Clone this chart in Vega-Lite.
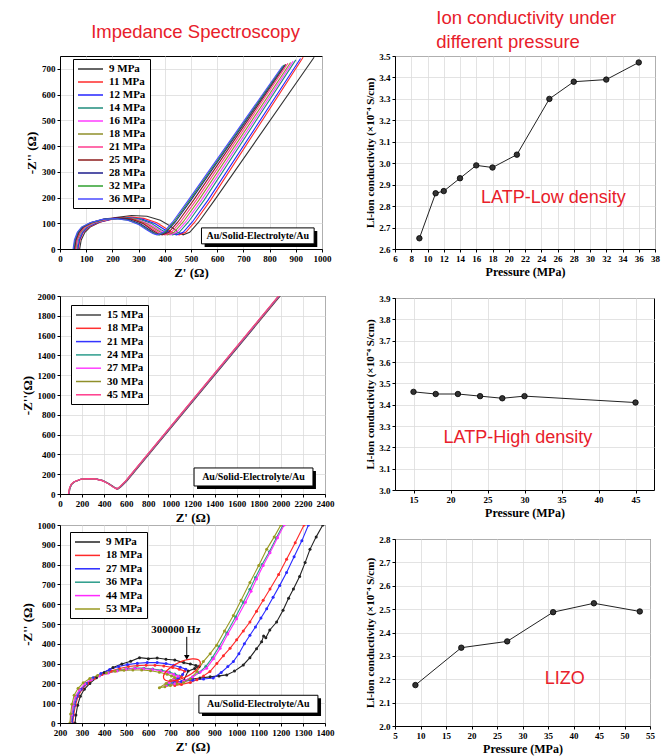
{
"$schema":"https://vega.github.io/schema/vega-lite/v6.json",
"background":"white",
"padding":{"left":20,"top":5,"right":5,"bottom":2},
"config":{
 "view":{"stroke":"black","strokeWidth":1},
 "axis":{"labelFont":"Liberation Serif","labelFontWeight":"bold","labelFontSize":9,"labelColor":"black","titleFont":"Liberation Serif","titleFontWeight":"bold","titleColor":"black","gridColor":"#dcdcdc","gridWidth":0.8,"domainColor":"black","tickColor":"black","tickSize":3,"labelPadding":2,"titlePadding":3,"labelOverlap":false,"labelFlush":false,"tickCount":60},
 "legend":{"labelFont":"Liberation Serif","labelFontWeight":"bold","labelFontSize":11,"labelColor":"black"},
 "title":{"font":"Liberation Sans","fontWeight":"normal","color":"#e8202a","fontSize":18.5}
},
"datasets":{
"p1":[
{"p":"9 MPa","x":75,"y":0},{"p":"9 MPa","x":81,"y":35},{"p":"9 MPa","x":95,"y":65},{"p":"9 MPa","x":115,"y":85},{"p":"9 MPa","x":154,"y":105},{"p":"9 MPa","x":213,"y":122},{"p":"9 MPa","x":273,"y":130},{"p":"9 MPa","x":332,"y":127},{"p":"9 MPa","x":383,"y":112},{"p":"9 MPa","x":423,"y":88},{"p":"9 MPa","x":450,"y":65},{"p":"9 MPa","x":470,"y":55},{"p":"9 MPa","x":495,"y":65},{"p":"9 MPa","x":530,"y":105},{"p":"9 MPa","x":590,"y":190},{"p":"9 MPa","x":970,"y":745},
{"p":"11 MPa","x":70,"y":0},{"p":"11 MPa","x":76,"y":35},{"p":"11 MPa","x":89,"y":65},{"p":"11 MPa","x":109,"y":85},{"p":"11 MPa","x":147,"y":103},{"p":"11 MPa","x":205,"y":117},{"p":"11 MPa","x":263,"y":125},{"p":"11 MPa","x":320,"y":119},{"p":"11 MPa","x":370,"y":102},{"p":"11 MPa","x":409,"y":77},{"p":"11 MPa","x":436,"y":60},{"p":"11 MPa","x":455,"y":55},{"p":"11 MPa","x":480,"y":65},{"p":"11 MPa","x":515,"y":105},{"p":"11 MPa","x":575,"y":190},{"p":"11 MPa","x":928,"y":745},
{"p":"12 MPa","x":68,"y":0},{"p":"12 MPa","x":74,"y":35},{"p":"12 MPa","x":87,"y":65},{"p":"12 MPa","x":106,"y":85},{"p":"12 MPa","x":143,"y":103},{"p":"12 MPa","x":200,"y":117},{"p":"12 MPa","x":257,"y":122},{"p":"12 MPa","x":313,"y":116},{"p":"12 MPa","x":362,"y":99},{"p":"12 MPa","x":400,"y":75},{"p":"12 MPa","x":426,"y":60},{"p":"12 MPa","x":445,"y":55},{"p":"12 MPa","x":470,"y":65},{"p":"12 MPa","x":505,"y":105},{"p":"12 MPa","x":565,"y":190},{"p":"12 MPa","x":918,"y":740},
{"p":"14 MPa","x":65,"y":0},{"p":"14 MPa","x":70,"y":35},{"p":"14 MPa","x":83,"y":65},{"p":"14 MPa","x":102,"y":85},{"p":"14 MPa","x":138,"y":103},{"p":"14 MPa","x":193,"y":117},{"p":"14 MPa","x":248,"y":122},{"p":"14 MPa","x":302,"y":116},{"p":"14 MPa","x":350,"y":99},{"p":"14 MPa","x":386,"y":75},{"p":"14 MPa","x":412,"y":60},{"p":"14 MPa","x":430,"y":55},{"p":"14 MPa","x":455,"y":65},{"p":"14 MPa","x":490,"y":105},{"p":"14 MPa","x":550,"y":190},{"p":"14 MPa","x":900,"y":735},
{"p":"16 MPa","x":62,"y":0},{"p":"16 MPa","x":67,"y":35},{"p":"16 MPa","x":80,"y":65},{"p":"16 MPa","x":98,"y":85},{"p":"16 MPa","x":134,"y":103},{"p":"16 MPa","x":187,"y":116},{"p":"16 MPa","x":241,"y":120},{"p":"16 MPa","x":295,"y":114},{"p":"16 MPa","x":341,"y":97},{"p":"16 MPa","x":377,"y":75},{"p":"16 MPa","x":402,"y":60},{"p":"16 MPa","x":420,"y":55},{"p":"16 MPa","x":445,"y":65},{"p":"16 MPa","x":480,"y":105},{"p":"16 MPa","x":540,"y":190},{"p":"16 MPa","x":890,"y":730},
{"p":"18 MPa","x":60,"y":0},{"p":"18 MPa","x":65,"y":35},{"p":"18 MPa","x":78,"y":65},{"p":"18 MPa","x":95,"y":85},{"p":"18 MPa","x":130,"y":103},{"p":"18 MPa","x":183,"y":116},{"p":"18 MPa","x":235,"y":120},{"p":"18 MPa","x":288,"y":114},{"p":"18 MPa","x":333,"y":97},{"p":"18 MPa","x":368,"y":75},{"p":"18 MPa","x":393,"y":60},{"p":"18 MPa","x":410,"y":55},{"p":"18 MPa","x":435,"y":65},{"p":"18 MPa","x":470,"y":105},{"p":"18 MPa","x":530,"y":190},{"p":"18 MPa","x":880,"y":725},
{"p":"21 MPa","x":58,"y":0},{"p":"21 MPa","x":63,"y":35},{"p":"21 MPa","x":75,"y":65},{"p":"21 MPa","x":92,"y":85},{"p":"21 MPa","x":126,"y":103},{"p":"21 MPa","x":178,"y":116},{"p":"21 MPa","x":229,"y":120},{"p":"21 MPa","x":280,"y":114},{"p":"21 MPa","x":325,"y":97},{"p":"21 MPa","x":359,"y":75},{"p":"21 MPa","x":383,"y":60},{"p":"21 MPa","x":400,"y":55},{"p":"21 MPa","x":425,"y":65},{"p":"21 MPa","x":460,"y":105},{"p":"21 MPa","x":520,"y":190},{"p":"21 MPa","x":870,"y":722},
{"p":"25 MPa","x":56,"y":0},{"p":"25 MPa","x":61,"y":35},{"p":"25 MPa","x":73,"y":65},{"p":"25 MPa","x":89,"y":85},{"p":"25 MPa","x":123,"y":103},{"p":"25 MPa","x":173,"y":117},{"p":"25 MPa","x":223,"y":122},{"p":"25 MPa","x":273,"y":116},{"p":"25 MPa","x":317,"y":99},{"p":"25 MPa","x":350,"y":75},{"p":"25 MPa","x":373,"y":60},{"p":"25 MPa","x":390,"y":55},{"p":"25 MPa","x":415,"y":65},{"p":"25 MPa","x":450,"y":105},{"p":"25 MPa","x":510,"y":190},{"p":"25 MPa","x":862,"y":718},
{"p":"28 MPa","x":54,"y":0},{"p":"28 MPa","x":59,"y":35},{"p":"28 MPa","x":70,"y":65},{"p":"28 MPa","x":87,"y":85},{"p":"28 MPa","x":119,"y":103},{"p":"28 MPa","x":168,"y":116},{"p":"28 MPa","x":217,"y":120},{"p":"28 MPa","x":266,"y":114},{"p":"28 MPa","x":308,"y":97},{"p":"28 MPa","x":341,"y":75},{"p":"28 MPa","x":364,"y":60},{"p":"28 MPa","x":380,"y":55},{"p":"28 MPa","x":405,"y":65},{"p":"28 MPa","x":440,"y":105},{"p":"28 MPa","x":500,"y":190},{"p":"28 MPa","x":858,"y":716},
{"p":"32 MPa","x":52,"y":0},{"p":"32 MPa","x":57,"y":35},{"p":"32 MPa","x":68,"y":65},{"p":"32 MPa","x":84,"y":85},{"p":"32 MPa","x":117,"y":102},{"p":"32 MPa","x":165,"y":115},{"p":"32 MPa","x":214,"y":118},{"p":"32 MPa","x":262,"y":112},{"p":"32 MPa","x":304,"y":95},{"p":"32 MPa","x":336,"y":74},{"p":"32 MPa","x":359,"y":60},{"p":"32 MPa","x":375,"y":55},{"p":"32 MPa","x":400,"y":65},{"p":"32 MPa","x":435,"y":105},{"p":"32 MPa","x":495,"y":190},{"p":"32 MPa","x":855,"y":715},
{"p":"36 MPa","x":50,"y":0},{"p":"36 MPa","x":55,"y":35},{"p":"36 MPa","x":66,"y":65},{"p":"36 MPa","x":82,"y":85},{"p":"36 MPa","x":114,"y":102},{"p":"36 MPa","x":162,"y":115},{"p":"36 MPa","x":210,"y":118},{"p":"36 MPa","x":258,"y":112},{"p":"36 MPa","x":300,"y":95},{"p":"36 MPa","x":332,"y":74},{"p":"36 MPa","x":354,"y":60},{"p":"36 MPa","x":370,"y":55},{"p":"36 MPa","x":395,"y":65},{"p":"36 MPa","x":430,"y":105},{"p":"36 MPa","x":490,"y":190},{"p":"36 MPa","x":850,"y":712}
],
"p3":[
{"p":"15 MPa","x":82,"y":0},{"p":"15 MPa","x":91,"y":60},{"p":"15 MPa","x":109,"y":100},{"p":"15 MPa","x":135,"y":125},{"p":"15 MPa","x":193,"y":148},{"p":"15 MPa","x":259,"y":155},{"p":"15 MPa","x":326,"y":153},{"p":"15 MPa","x":392,"y":135},{"p":"15 MPa","x":445,"y":105},{"p":"15 MPa","x":490,"y":72},{"p":"15 MPa","x":525,"y":50},{"p":"15 MPa","x":555,"y":75},{"p":"15 MPa","x":605,"y":130},{"p":"15 MPa","x":1995,"y":2000},
{"p":"18 MPa","x":80,"y":0},{"p":"18 MPa","x":89,"y":60},{"p":"18 MPa","x":106,"y":100},{"p":"18 MPa","x":133,"y":125},{"p":"18 MPa","x":190,"y":148},{"p":"18 MPa","x":256,"y":155},{"p":"18 MPa","x":322,"y":153},{"p":"18 MPa","x":388,"y":135},{"p":"18 MPa","x":441,"y":105},{"p":"18 MPa","x":485,"y":72},{"p":"18 MPa","x":520,"y":50},{"p":"18 MPa","x":550,"y":75},{"p":"18 MPa","x":600,"y":130},{"p":"18 MPa","x":1988,"y":2000},
{"p":"21 MPa","x":79,"y":0},{"p":"21 MPa","x":88,"y":60},{"p":"21 MPa","x":105,"y":100},{"p":"21 MPa","x":132,"y":125},{"p":"21 MPa","x":189,"y":148},{"p":"21 MPa","x":255,"y":155},{"p":"21 MPa","x":320,"y":153},{"p":"21 MPa","x":386,"y":135},{"p":"21 MPa","x":439,"y":105},{"p":"21 MPa","x":483,"y":72},{"p":"21 MPa","x":518,"y":50},{"p":"21 MPa","x":548,"y":75},{"p":"21 MPa","x":598,"y":130},{"p":"21 MPa","x":1985,"y":2000},
{"p":"24 MPa","x":78,"y":0},{"p":"24 MPa","x":87,"y":60},{"p":"24 MPa","x":104,"y":100},{"p":"24 MPa","x":131,"y":125},{"p":"24 MPa","x":188,"y":148},{"p":"24 MPa","x":253,"y":155},{"p":"24 MPa","x":319,"y":153},{"p":"24 MPa","x":385,"y":135},{"p":"24 MPa","x":437,"y":105},{"p":"24 MPa","x":481,"y":72},{"p":"24 MPa","x":516,"y":50},{"p":"24 MPa","x":546,"y":75},{"p":"24 MPa","x":596,"y":130},{"p":"24 MPa","x":1983,"y":2000},
{"p":"27 MPa","x":78,"y":0},{"p":"27 MPa","x":87,"y":60},{"p":"27 MPa","x":104,"y":100},{"p":"27 MPa","x":130,"y":125},{"p":"27 MPa","x":187,"y":148},{"p":"27 MPa","x":253,"y":155},{"p":"27 MPa","x":318,"y":153},{"p":"27 MPa","x":384,"y":135},{"p":"27 MPa","x":436,"y":105},{"p":"27 MPa","x":480,"y":72},{"p":"27 MPa","x":515,"y":50},{"p":"27 MPa","x":545,"y":75},{"p":"27 MPa","x":595,"y":130},{"p":"27 MPa","x":1982,"y":2000},
{"p":"30 MPa","x":77,"y":0},{"p":"30 MPa","x":86,"y":60},{"p":"30 MPa","x":103,"y":100},{"p":"30 MPa","x":129,"y":125},{"p":"30 MPa","x":186,"y":148},{"p":"30 MPa","x":252,"y":155},{"p":"30 MPa","x":317,"y":153},{"p":"30 MPa","x":383,"y":135},{"p":"30 MPa","x":435,"y":105},{"p":"30 MPa","x":479,"y":72},{"p":"30 MPa","x":514,"y":50},{"p":"30 MPa","x":544,"y":75},{"p":"30 MPa","x":594,"y":130},{"p":"30 MPa","x":1980,"y":2000},
{"p":"45 MPa","x":76,"y":0},{"p":"45 MPa","x":85,"y":60},{"p":"45 MPa","x":102,"y":100},{"p":"45 MPa","x":128,"y":125},{"p":"45 MPa","x":185,"y":148},{"p":"45 MPa","x":250,"y":155},{"p":"45 MPa","x":316,"y":153},{"p":"45 MPa","x":381,"y":135},{"p":"45 MPa","x":434,"y":105},{"p":"45 MPa","x":477,"y":72},{"p":"45 MPa","x":512,"y":50},{"p":"45 MPa","x":542,"y":75},{"p":"45 MPa","x":592,"y":130},{"p":"45 MPa","x":1978,"y":2000}
],
"p5":[
{"p":"9 MPa","x":268,"y":0},{"p":"9 MPa","x":272,"y":40},{"p":"9 MPa","x":280,"y":90},{"p":"9 MPa","x":292,"y":135},{"p":"9 MPa","x":310,"y":170},{"p":"9 MPa","x":335,"y":200},{"p":"9 MPa","x":365,"y":228},{"p":"9 MPa","x":400,"y":255},{"p":"9 MPa","x":440,"y":280},{"p":"9 MPa","x":480,"y":298},{"p":"9 MPa","x":520,"y":312},{"p":"9 MPa","x":560,"y":330},{"p":"9 MPa","x":600,"y":325},{"p":"9 MPa","x":640,"y":328},{"p":"9 MPa","x":680,"y":322},{"p":"9 MPa","x":720,"y":318},{"p":"9 MPa","x":760,"y":305},{"p":"9 MPa","x":790,"y":298},{"p":"9 MPa","x":815,"y":290},{"p":"9 MPa","x":830,"y":285},{"p":"9 MPa","x":810,"y":275},{"p":"9 MPa","x":780,"y":262},{"p":"9 MPa","x":760,"y":215},{"p":"9 MPa","x":800,"y":222},{"p":"9 MPa","x":834,"y":227},{"p":"9 MPa","x":880,"y":233},{"p":"9 MPa","x":920,"y":238},{"p":"9 MPa","x":955,"y":243},{"p":"9 MPa","x":990,"y":262},{"p":"9 MPa","x":1030,"y":293},{"p":"9 MPa","x":1060,"y":330},{"p":"9 MPa","x":1090,"y":375},{"p":"9 MPa","x":1113,"y":410},{"p":"9 MPa","x":1122,"y":440},{"p":"9 MPa","x":1132,"y":430},{"p":"9 MPa","x":1150,"y":470},{"p":"9 MPa","x":1181,"y":510},{"p":"9 MPa","x":1210,"y":570},{"p":"9 MPa","x":1235,"y":630},{"p":"9 MPa","x":1257,"y":677},{"p":"9 MPa","x":1285,"y":740},{"p":"9 MPa","x":1310,"y":810},{"p":"9 MPa","x":1332,"y":877},{"p":"9 MPa","x":1360,"y":940},{"p":"9 MPa","x":1390,"y":1000},
{"p":"18 MPa","x":258,"y":0},{"p":"18 MPa","x":262,"y":40},{"p":"18 MPa","x":270,"y":90},{"p":"18 MPa","x":282,"y":135},{"p":"18 MPa","x":300,"y":170},{"p":"18 MPa","x":325,"y":200},{"p":"18 MPa","x":355,"y":225},{"p":"18 MPa","x":390,"y":245},{"p":"18 MPa","x":430,"y":262},{"p":"18 MPa","x":470,"y":275},{"p":"18 MPa","x":510,"y":285},{"p":"18 MPa","x":550,"y":290},{"p":"18 MPa","x":590,"y":292},{"p":"18 MPa","x":630,"y":292},{"p":"18 MPa","x":670,"y":288},{"p":"18 MPa","x":710,"y":280},{"p":"18 MPa","x":740,"y":272},{"p":"18 MPa","x":765,"y":262},{"p":"18 MPa","x":750,"y":235},{"p":"18 MPa","x":730,"y":210},{"p":"18 MPa","x":720,"y":190},{"p":"18 MPa","x":750,"y":195},{"p":"18 MPa","x":790,"y":205},{"p":"18 MPa","x":820,"y":218},{"p":"18 MPa","x":850,"y":238},{"p":"18 MPa","x":879,"y":260},{"p":"18 MPa","x":910,"y":300},{"p":"18 MPa","x":940,"y":340},{"p":"18 MPa","x":970,"y":377},{"p":"18 MPa","x":1000,"y":420},{"p":"18 MPa","x":1030,"y":465},{"p":"18 MPa","x":1060,"y":510},{"p":"18 MPa","x":1090,"y":565},{"p":"18 MPa","x":1120,"y":620},{"p":"18 MPa","x":1151,"y":677},{"p":"18 MPa","x":1190,"y":750},{"p":"18 MPa","x":1226,"y":827},{"p":"18 MPa","x":1265,"y":910},{"p":"18 MPa","x":1305,"y":1000},
{"p":"27 MPa","x":255,"y":0},{"p":"27 MPa","x":259,"y":40},{"p":"27 MPa","x":266,"y":90},{"p":"27 MPa","x":278,"y":135},{"p":"27 MPa","x":296,"y":170},{"p":"27 MPa","x":320,"y":200},{"p":"27 MPa","x":350,"y":228},{"p":"27 MPa","x":385,"y":250},{"p":"27 MPa","x":425,"y":270},{"p":"27 MPa","x":465,"y":285},{"p":"27 MPa","x":505,"y":295},{"p":"27 MPa","x":550,"y":302},{"p":"27 MPa","x":595,"y":305},{"p":"27 MPa","x":640,"y":305},{"p":"27 MPa","x":680,"y":300},{"p":"27 MPa","x":715,"y":292},{"p":"27 MPa","x":745,"y":282},{"p":"27 MPa","x":770,"y":272},{"p":"27 MPa","x":755,"y":245},{"p":"27 MPa","x":735,"y":225},{"p":"27 MPa","x":715,"y":205},{"p":"27 MPa","x":750,"y":210},{"p":"27 MPa","x":800,"y":216},{"p":"27 MPa","x":850,"y":222},{"p":"27 MPa","x":894,"y":227},{"p":"27 MPa","x":930,"y":255},{"p":"27 MPa","x":960,"y":285},{"p":"27 MPa","x":985,"y":310},{"p":"27 MPa","x":1010,"y":350},{"p":"27 MPa","x":1035,"y":400},{"p":"27 MPa","x":1060,"y":443},{"p":"27 MPa","x":1085,"y":485},{"p":"27 MPa","x":1110,"y":530},{"p":"27 MPa","x":1136,"y":577},{"p":"27 MPa","x":1165,"y":635},{"p":"27 MPa","x":1195,"y":695},{"p":"27 MPa","x":1226,"y":760},{"p":"27 MPa","x":1260,"y":840},{"p":"27 MPa","x":1295,"y":920},{"p":"27 MPa","x":1325,"y":1000},
{"p":"36 MPa","x":250,"y":0},{"p":"36 MPa","x":254,"y":40},{"p":"36 MPa","x":261,"y":90},{"p":"36 MPa","x":272,"y":135},{"p":"36 MPa","x":290,"y":168},{"p":"36 MPa","x":315,"y":198},{"p":"36 MPa","x":345,"y":222},{"p":"36 MPa","x":380,"y":240},{"p":"36 MPa","x":420,"y":255},{"p":"36 MPa","x":460,"y":266},{"p":"36 MPa","x":500,"y":274},{"p":"36 MPa","x":540,"y":278},{"p":"36 MPa","x":580,"y":277},{"p":"36 MPa","x":620,"y":273},{"p":"36 MPa","x":660,"y":266},{"p":"36 MPa","x":695,"y":258},{"p":"36 MPa","x":720,"y":248},{"p":"36 MPa","x":740,"y":238},{"p":"36 MPa","x":720,"y":220},{"p":"36 MPa","x":700,"y":205},{"p":"36 MPa","x":690,"y":195},{"p":"36 MPa","x":720,"y":200},{"p":"36 MPa","x":760,"y":212},{"p":"36 MPa","x":800,"y":232},{"p":"36 MPa","x":830,"y":255},{"p":"36 MPa","x":860,"y":285},{"p":"36 MPa","x":890,"y":330},{"p":"36 MPa","x":920,"y":385},{"p":"36 MPa","x":955,"y":455},{"p":"36 MPa","x":995,"y":535},{"p":"36 MPa","x":1030,"y":610},{"p":"36 MPa","x":1060,"y":675},{"p":"36 MPa","x":1085,"y":735},{"p":"36 MPa","x":1115,"y":800},{"p":"36 MPa","x":1148,"y":865},{"p":"36 MPa","x":1180,"y":935},{"p":"36 MPa","x":1210,"y":1000},
{"p":"44 MPa","x":248,"y":0},{"p":"44 MPa","x":252,"y":40},{"p":"44 MPa","x":259,"y":90},{"p":"44 MPa","x":270,"y":135},{"p":"44 MPa","x":288,"y":168},{"p":"44 MPa","x":312,"y":198},{"p":"44 MPa","x":342,"y":220},{"p":"44 MPa","x":378,"y":238},{"p":"44 MPa","x":418,"y":252},{"p":"44 MPa","x":458,"y":263},{"p":"44 MPa","x":498,"y":271},{"p":"44 MPa","x":538,"y":275},{"p":"44 MPa","x":578,"y":274},{"p":"44 MPa","x":618,"y":270},{"p":"44 MPa","x":655,"y":264},{"p":"44 MPa","x":690,"y":255},{"p":"44 MPa","x":715,"y":245},{"p":"44 MPa","x":735,"y":236},{"p":"44 MPa","x":715,"y":218},{"p":"44 MPa","x":695,"y":205},{"p":"44 MPa","x":680,"y":190},{"p":"44 MPa","x":720,"y":198},{"p":"44 MPa","x":760,"y":212},{"p":"44 MPa","x":800,"y":232},{"p":"44 MPa","x":835,"y":258},{"p":"44 MPa","x":864,"y":277},{"p":"44 MPa","x":895,"y":325},{"p":"44 MPa","x":925,"y":377},{"p":"44 MPa","x":960,"y":450},{"p":"44 MPa","x":1000,"y":527},{"p":"44 MPa","x":1040,"y":610},{"p":"44 MPa","x":1065,"y":665},{"p":"44 MPa","x":1090,"y":727},{"p":"44 MPa","x":1120,"y":795},{"p":"44 MPa","x":1151,"y":860},{"p":"44 MPa","x":1185,"y":935},{"p":"44 MPa","x":1215,"y":1000},
{"p":"53 MPa","x":245,"y":0},{"p":"53 MPa","x":248,"y":45},{"p":"53 MPa","x":254,"y":95},{"p":"53 MPa","x":264,"y":140},{"p":"53 MPa","x":282,"y":175},{"p":"53 MPa","x":305,"y":203},{"p":"53 MPa","x":335,"y":225},{"p":"53 MPa","x":370,"y":240},{"p":"53 MPa","x":410,"y":252},{"p":"53 MPa","x":450,"y":261},{"p":"53 MPa","x":490,"y":266},{"p":"53 MPa","x":530,"y":268},{"p":"53 MPa","x":570,"y":268},{"p":"53 MPa","x":610,"y":264},{"p":"53 MPa","x":650,"y":256},{"p":"53 MPa","x":685,"y":246},{"p":"53 MPa","x":705,"y":238},{"p":"53 MPa","x":720,"y":230},{"p":"53 MPa","x":700,"y":215},{"p":"53 MPa","x":680,"y":200},{"p":"53 MPa","x":650,"y":178},{"p":"53 MPa","x":675,"y":183},{"p":"53 MPa","x":700,"y":190},{"p":"53 MPa","x":730,"y":197},{"p":"53 MPa","x":760,"y":205},{"p":"53 MPa","x":790,"y":222},{"p":"53 MPa","x":820,"y":260},{"p":"53 MPa","x":849,"y":310},{"p":"53 MPa","x":880,"y":350},{"p":"53 MPa","x":909,"y":393},{"p":"53 MPa","x":945,"y":465},{"p":"53 MPa","x":985,"y":543},{"p":"53 MPa","x":1020,"y":620},{"p":"53 MPa","x":1060,"y":710},{"p":"53 MPa","x":1100,"y":795},{"p":"53 MPa","x":1136,"y":877},{"p":"53 MPa","x":1170,"y":940},{"p":"53 MPa","x":1200,"y":1000}
],
"c1":[{"P":9,"C":2.65},{"P":11,"C":2.86},{"P":12,"C":2.87},{"P":14,"C":2.93},{"P":16,"C":2.99},{"P":18,"C":2.98},{"P":21,"C":3.04},{"P":25,"C":3.30},{"P":28,"C":3.38},{"P":32,"C":3.39},{"P":36,"C":3.47}],
"c2":[{"P":15,"C":3.46},{"P":18,"C":3.45},{"P":21,"C":3.45},{"P":24,"C":3.44},{"P":27,"C":3.43},{"P":30,"C":3.44},{"P":45,"C":3.41}],
"c3":[{"P":9,"C":2.175},{"P":18,"C":2.335},{"P":27,"C":2.362},{"P":36,"C":2.487},{"P":44,"C":2.525},{"P":53,"C":2.49}]
},
"hconcat":[
{
 "title":{"text":["","Impedance Spectroscopy"],"lineHeight":18,"anchor":"middle","offset":14,"dx":18},
 "spacing":-7,
 "resolve":{"scale":{"color":"independent"},"legend":{"color":"independent"}},
 "vconcat":[
 {"width":262,"height":193,
  "layer":[
   {"data":{"name":"p1"},"mark":{"type":"line","strokeWidth":1.1,"clip":true},
    "encoding":{
     "x":{"field":"x","type":"quantitative","scale":{"domain":[0,1000],"nice":false},"axis":{"values":[0,100,200,300,400,500,600,700,800,900,1000],"format":"d","title":"Z' (Ω)","titleFontSize":13}},
     "y":{"field":"y","type":"quantitative","scale":{"domain":[0,750],"nice":false},"axis":{"values":[0,100,200,300,400,500,600,700],"format":"d","title":"-Z'' (Ω)","titleFontSize":13}},
     "color":{"field":"p","type":"nominal","scale":{"domain":["9 MPa","11 MPa","12 MPa","14 MPa","16 MPa","18 MPa","21 MPa","25 MPa","28 MPa","32 MPa","36 MPa"],"range":["#333333","#ff2b2b","#2424ff","#1f8c7c","#ff3cff","#8f8f2a","#ff3d8f","#8c1c1c","#1c1c8c","#2fa02f","#4a4aff"]},
      "legend":{"title":null,"orient":"none","legendX":13,"legendY":3,"symbolType":"M-1,0L4,0","symbolSize":100,"symbolStrokeWidth":1.5,"labelOffset":20,"rowPadding":2,"padding":4,"strokeColor":"black","fillColor":"white","labelFontSize":11}}
    }},
   {"data":{"values":[{}]},"mark":{"type":"rect","color":"black"},"encoding":{"x":{"datum":552},"x2":{"datum":982},"y":{"datum":8},"y2":{"datum":70}}},
   {"data":{"values":[{}]},"mark":{"type":"rect","fill":"white","stroke":"black","strokeWidth":1},"encoding":{"x":{"datum":540},"x2":{"datum":970},"y":{"datum":20},"y2":{"datum":82}}},
   {"data":{"values":[{}]},"mark":{"type":"text","text":"Au/Solid-Electrolyte/Au","font":"Liberation Serif","fontWeight":"bold","fontSize":10,"color":"black"},"encoding":{"x":{"datum":755},"y":{"datum":51}}}
  ]},
 {"width":265,"height":198,
  "title":{"text":" ","fontSize":1,"offset":17},
  "layer":[
   {"data":{"name":"p3"},"mark":{"type":"line","strokeWidth":1.1,"clip":true},
    "encoding":{
     "x":{"field":"x","type":"quantitative","scale":{"domain":[0,2400],"nice":false},"axis":{"values":[0,200,400,600,800,1000,1200,1400,1600,1800,2000,2200,2400],"format":"d","title":"Z' (Ω)","titleFontSize":13}},
     "y":{"field":"y","type":"quantitative","scale":{"domain":[0,2000],"nice":false},"axis":{"values":[0,200,400,600,800,1000,1200,1400,1600,1800,2000],"format":"d","title":"-Z''(Ω)","titleFontSize":13}},
     "color":{"field":"p","type":"nominal","scale":{"domain":["15 MPa","18 MPa","21 MPa","24 MPa","27 MPa","30 MPa","45 MPa"],"range":["#444444","#ff3030","#3434ff","#2c9c8c","#ff40ff","#8f8f2a","#ff3c8c"]},
      "legend":{"title":null,"orient":"none","legendX":11,"legendY":9,"symbolType":"M-1,0L4,0","symbolSize":100,"symbolStrokeWidth":1.5,"labelOffset":20,"rowPadding":2.3,"padding":4,"strokeColor":"black","fillColor":"white","labelFontSize":11}}
    }},
   {"data":{"values":[{}]},"mark":{"type":"rect","color":"black"},"encoding":{"x":{"datum":1241},"x2":{"datum":2318},"y":{"datum":51},"y2":{"datum":233}}},
   {"data":{"values":[{}]},"mark":{"type":"rect","fill":"white","stroke":"black","strokeWidth":1},"encoding":{"x":{"datum":1214},"x2":{"datum":2291},"y":{"datum":81},"y2":{"datum":263}}},
   {"data":{"values":[{}]},"mark":{"type":"text","text":"Au/Solid-Electrolyte/Au","font":"Liberation Serif","fontWeight":"bold","fontSize":10,"color":"black"},"encoding":{"x":{"datum":1752},"y":{"datum":172}}}
  ]},
 {"width":265,"height":198,
  "layer":[
   {"data":{"name":"p5"},"mark":{"type":"line","strokeWidth":1.1,"clip":true},
    "encoding":{
     "x":{"field":"x","type":"quantitative","scale":{"domain":[200,1400],"nice":false},"axis":{"values":[200,300,400,500,600,700,800,900,1000,1100,1200,1300,1400],"format":"d","title":"Z' (Ω)","titleFontSize":13}},
     "y":{"field":"y","type":"quantitative","scale":{"domain":[0,1000],"nice":false},"axis":{"values":[0,100,200,300,400,500,600,700,800,900,1000],"format":"d","title":"-Z'' (Ω)","titleFontSize":13}},
     "order":{"value":null},
     "color":{"field":"p","type":"nominal","scale":{"domain":["9 MPa","18 MPa","27 MPa","36 MPa","44 MPa","53 MPa"],"range":["#222222","#ff2a2a","#2a2aff","#2a9c8a","#ff2aff","#9a9a22"]},
      "legend":{"title":null,"orient":"none","legendX":10,"legendY":7,"symbolType":"M-1,0L4,0","symbolSize":100,"symbolStrokeWidth":1.5,"labelOffset":20,"rowPadding":2.4,"padding":4,"strokeColor":"black","fillColor":"white","labelFontSize":11}}
    }},
   {"data":{"name":"p5"},"mark":{"type":"point","filled":true,"size":9,"opacity":1,"clip":true},
    "encoding":{
     "x":{"field":"x","type":"quantitative"},
     "y":{"field":"y","type":"quantitative"},
     "color":{"field":"p","type":"nominal"}
    }},
   {"data":{"values":[{}]},"mark":{"type":"point","shape":"M-1,0C-1,-0.22,-0.55,-0.4,0,-0.4C0.55,-0.4,1,-0.22,1,0C1,0.22,0.55,0.4,0,0.4C-0.55,0.4,-1,0.22,-1,0Z","size":1600,"angle":-25,"stroke":"#ff2020","strokeWidth":1.2,"filled":false,"opacity":1},"encoding":{"x":{"datum":752},"y":{"datum":268}}},
   {"data":{"values":[{}]},"mark":{"type":"rule","color":"black","strokeWidth":1},"encoding":{"x":{"datum":774},"y":{"datum":435},"y2":{"datum":335}}},
   {"data":{"values":[{}]},"mark":{"type":"point","shape":"triangle-down","size":30,"filled":true,"color":"black","opacity":1},"encoding":{"x":{"datum":774},"y":{"datum":332}}},
   {"data":{"values":[{}]},"mark":{"type":"text","text":"300000 Hz","font":"Liberation Serif","fontWeight":"bold","fontSize":11,"color":"black"},"encoding":{"x":{"datum":725},"y":{"datum":468}}},
   {"data":{"values":[{}]},"mark":{"type":"rect","color":"black"},"encoding":{"x":{"datum":843},"x2":{"datum":1382},"y":{"datum":35},"y2":{"datum":125}}},
   {"data":{"values":[{}]},"mark":{"type":"rect","fill":"white","stroke":"black","strokeWidth":1},"encoding":{"x":{"datum":829},"x2":{"datum":1368},"y":{"datum":50},"y2":{"datum":140}}},
   {"data":{"values":[{}]},"mark":{"type":"text","text":"Au/Solid-Electrolyte/Au","font":"Liberation Serif","fontWeight":"bold","fontSize":10,"color":"black"},"encoding":{"x":{"datum":1098},"y":{"datum":95}}}
  ]}
 ]
},
{
 "title":{"text":["Ion conductivity under","different pressure"],"lineHeight":24,"anchor":"start","align":"left","dx":72,"offset":0},
 "spacing":15,
 "vconcat":[
 {"width":260,"height":193,
  "layer":[
   {"data":{"name":"c1"},"mark":{"type":"line","color":"#222222","strokeWidth":1},
    "encoding":{
     "x":{"field":"P","type":"quantitative","scale":{"domain":[6,38],"nice":false},"axis":{"values":[6,8,10,12,14,16,18,20,22,24,26,28,30,32,34,36,38],"format":"d","title":"Pressure (MPa)","titleFontSize":12}},
     "y":{"field":"C","type":"quantitative","scale":{"domain":[2.6,3.5],"nice":false,"zero":false},"axis":{"values":[2.6,2.7,2.8,2.9,3.0,3.1,3.2,3.3,3.4,3.5],"format":".1f","title":"Li-ion conductivity (×10⁻⁴ S/cm)","titleFontSize":11}}
    }},
   {"data":{"name":"c1"},"mark":{"type":"point","filled":true,"size":30,"color":"#333333","stroke":"black","strokeWidth":0.8,"opacity":1},
    "encoding":{"x":{"field":"P","type":"quantitative"},"y":{"field":"C","type":"quantitative"}}},
   {"data":{"values":[{"t":"LATP-Low density"}]},"mark":{"type":"text","font":"Liberation Sans","fontSize":18,"color":"#e8202a"},"encoding":{"text":{"field":"t"},"x":{"datum":25.5},"y":{"datum":2.836}}}
  ]},
 {"width":259,"height":192,
  "layer":[
   {"data":{"name":"c2"},"mark":{"type":"line","color":"#222222","strokeWidth":1},
    "encoding":{
     "x":{"field":"P","type":"quantitative","scale":{"domain":[12.5,47.5],"nice":false},"axis":{"values":[15,20,25,30,35,40,45],"format":"d","title":"Pressure (MPa)","titleFontSize":12}},
     "y":{"field":"C","type":"quantitative","scale":{"domain":[3.0,3.9],"nice":false,"zero":false},"axis":{"values":[3.0,3.1,3.2,3.3,3.4,3.5,3.6,3.7,3.8,3.9],"format":".1f","title":"Li-ion conductivity (×10⁻⁴ S/cm)","titleFontSize":11}}
    }},
   {"data":{"name":"c2"},"mark":{"type":"point","filled":true,"size":30,"color":"#333333","stroke":"black","strokeWidth":0.8,"opacity":1},
    "encoding":{"x":{"field":"P","type":"quantitative"},"y":{"field":"C","type":"quantitative"}}},
   {"data":{"values":[{"t":"LATP-High density"}]},"mark":{"type":"text","font":"Liberation Sans","fontSize":18,"color":"#e8202a"},"encoding":{"text":{"field":"t"},"x":{"datum":29.1},"y":{"datum":3.246}}}
  ]},
 {"width":255,"height":187,
  "layer":[
   {"data":{"name":"c3"},"mark":{"type":"line","color":"#222222","strokeWidth":1},
    "encoding":{
     "x":{"field":"P","type":"quantitative","scale":{"domain":[5,55],"nice":false},"axis":{"values":[5,10,15,20,25,30,35,40,45,50,55],"format":"d","title":"Pressure (MPa)","titleFontSize":12}},
     "y":{"field":"C","type":"quantitative","scale":{"domain":[2.0,2.8],"nice":false,"zero":false},"axis":{"values":[2.0,2.1,2.2,2.3,2.4,2.5,2.6,2.7,2.8],"format":".1f","title":"Li-ion conductivity (×10⁻⁴ S/cm)","titleFontSize":11}}
    }},
   {"data":{"name":"c3"},"mark":{"type":"point","filled":true,"size":30,"color":"#333333","stroke":"black","strokeWidth":0.8,"opacity":1},
    "encoding":{"x":{"field":"P","type":"quantitative"},"y":{"field":"C","type":"quantitative"}}},
   {"data":{"values":[{"t":"LIZO"}]},"mark":{"type":"text","font":"Liberation Sans","fontSize":18,"color":"#e8202a"},"encoding":{"text":{"field":"t"},"x":{"datum":38.3},"y":{"datum":2.2}}}
  ]}
 ]
}
],
"spacing":29,
"resolve":{"scale":{"color":"independent"},"legend":{"color":"independent"}}
}
